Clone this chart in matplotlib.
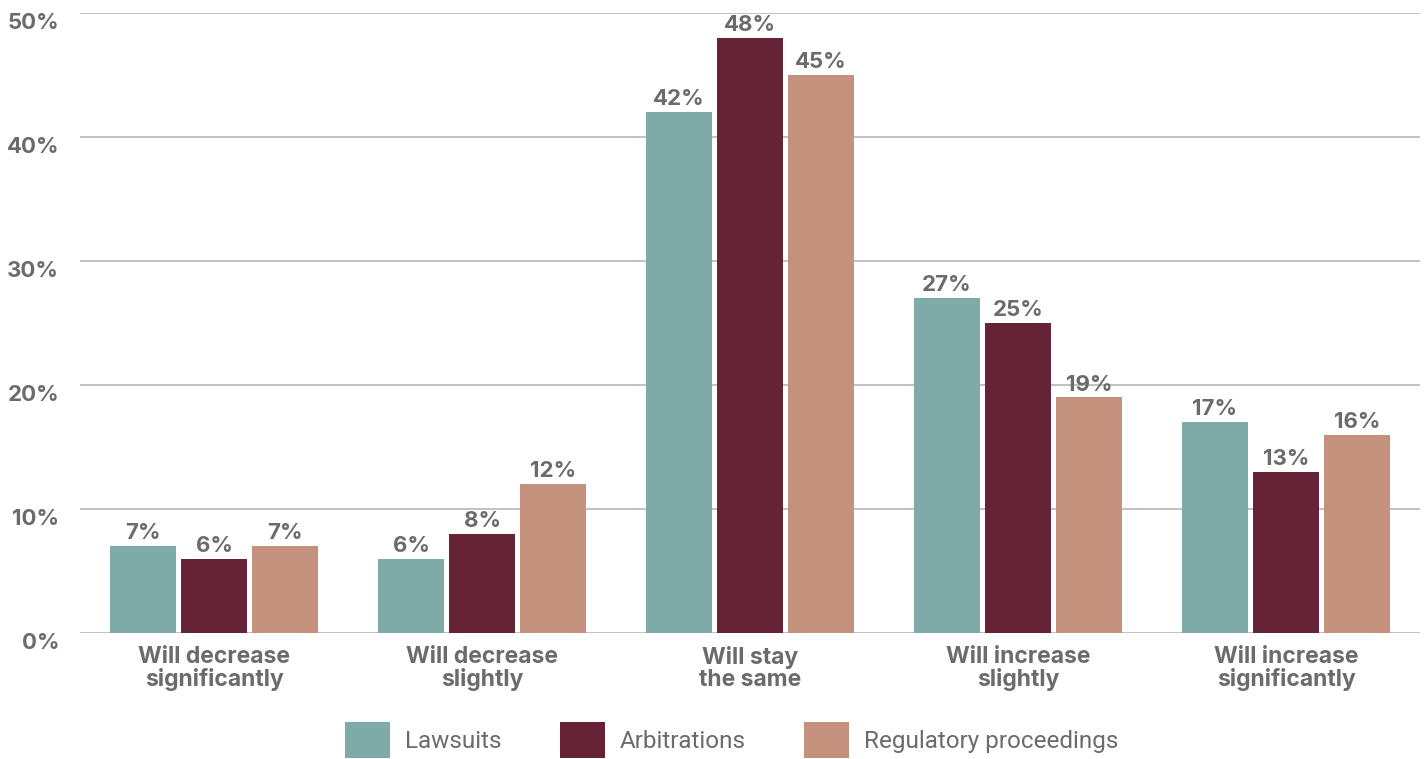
import matplotlib.pyplot as plt
import matplotlib.transforms as mtransforms
import numpy as np
from matplotlib.patches import Patch

categories = ["Will decrease\nsignificantly", "Will decrease\nslightly", "Will stay\nthe same",
              "Will increase\nslightly", "Will increase\nsignificantly"]
series_names = ["Lawsuits", "Arbitrations", "Regulatory proceedings"]
lawsuits = [7, 6, 42, 27, 17]
arbitrations = [6, 8, 48, 25, 13]
regulatory = [7, 12, 45, 19, 16]
y_ticks = [0, 10, 20, 30, 40, 50]

colors = ["#7eaaa7", "#652335", "#c4917c"]
text_grey = "#6b6b6b"

fig = plt.figure(figsize=(14.26, 7.59), dpi=100)
ax = fig.add_axes([0.0561, 0.166, 0.9397, 0.817])

x = np.arange(len(categories))
step = 0.265
width = 0.243
for i, (vals, col) in enumerate(zip([lawsuits, arbitrations, regulatory], colors)):
    bars = ax.bar(x + (i - 1) * step, vals, width=width, color=col, zorder=3)
    ax.bar_label(bars, labels=[f"{v}%" for v in vals], padding=2,
                 fontsize=16, fontweight="bold", color=text_grey, family="Inter")

ax.set_xlim(-0.5, 4.5)
ax.set_ylim(0, 50)
ax.set_yticks(y_ticks)
ax.set_yticklabels([f"{t}%" for t in y_ticks])
ax.grid(axis="y", color="#bdbdbd", linewidth=1.3, zorder=0)
ax.set_axisbelow(True)
for s in ax.spines.values():
    s.set_visible(False)
ax.tick_params(axis="y", length=0, pad=15)
ax.tick_params(axis="x", length=0, pad=9)
offset = mtransforms.ScaledTranslation(0, -8 / 100, fig.dpi_scale_trans)
for lab in ax.get_yticklabels():
    lab.set_fontsize(16)
    lab.set_fontweight("bold")
    lab.set_color(text_grey)
    lab.set_family("Inter")
    lab.set_transform(lab.get_transform() + offset)

ax.set_xticks(x)
ax.set_xticklabels(categories, fontsize=16.5, fontweight="bold", color=text_grey,
                   family="Inter", linespacing=1.05)

handles = [Patch(facecolor=c, label=n) for c, n in zip(colors, series_names)]
leg = fig.legend(handles=handles, loc="center", bbox_to_anchor=(0.513, 0.025), ncol=3,
                 frameon=False, handlelength=1.85, handleheight=1.85,
                 handletextpad=0.62, columnspacing=2.4, borderpad=0,
                 prop={"family": "Roboto", "size": 17.5})
for t in leg.get_texts():
    t.set_color(text_grey)

fig.savefig("out.png", dpi=100)
